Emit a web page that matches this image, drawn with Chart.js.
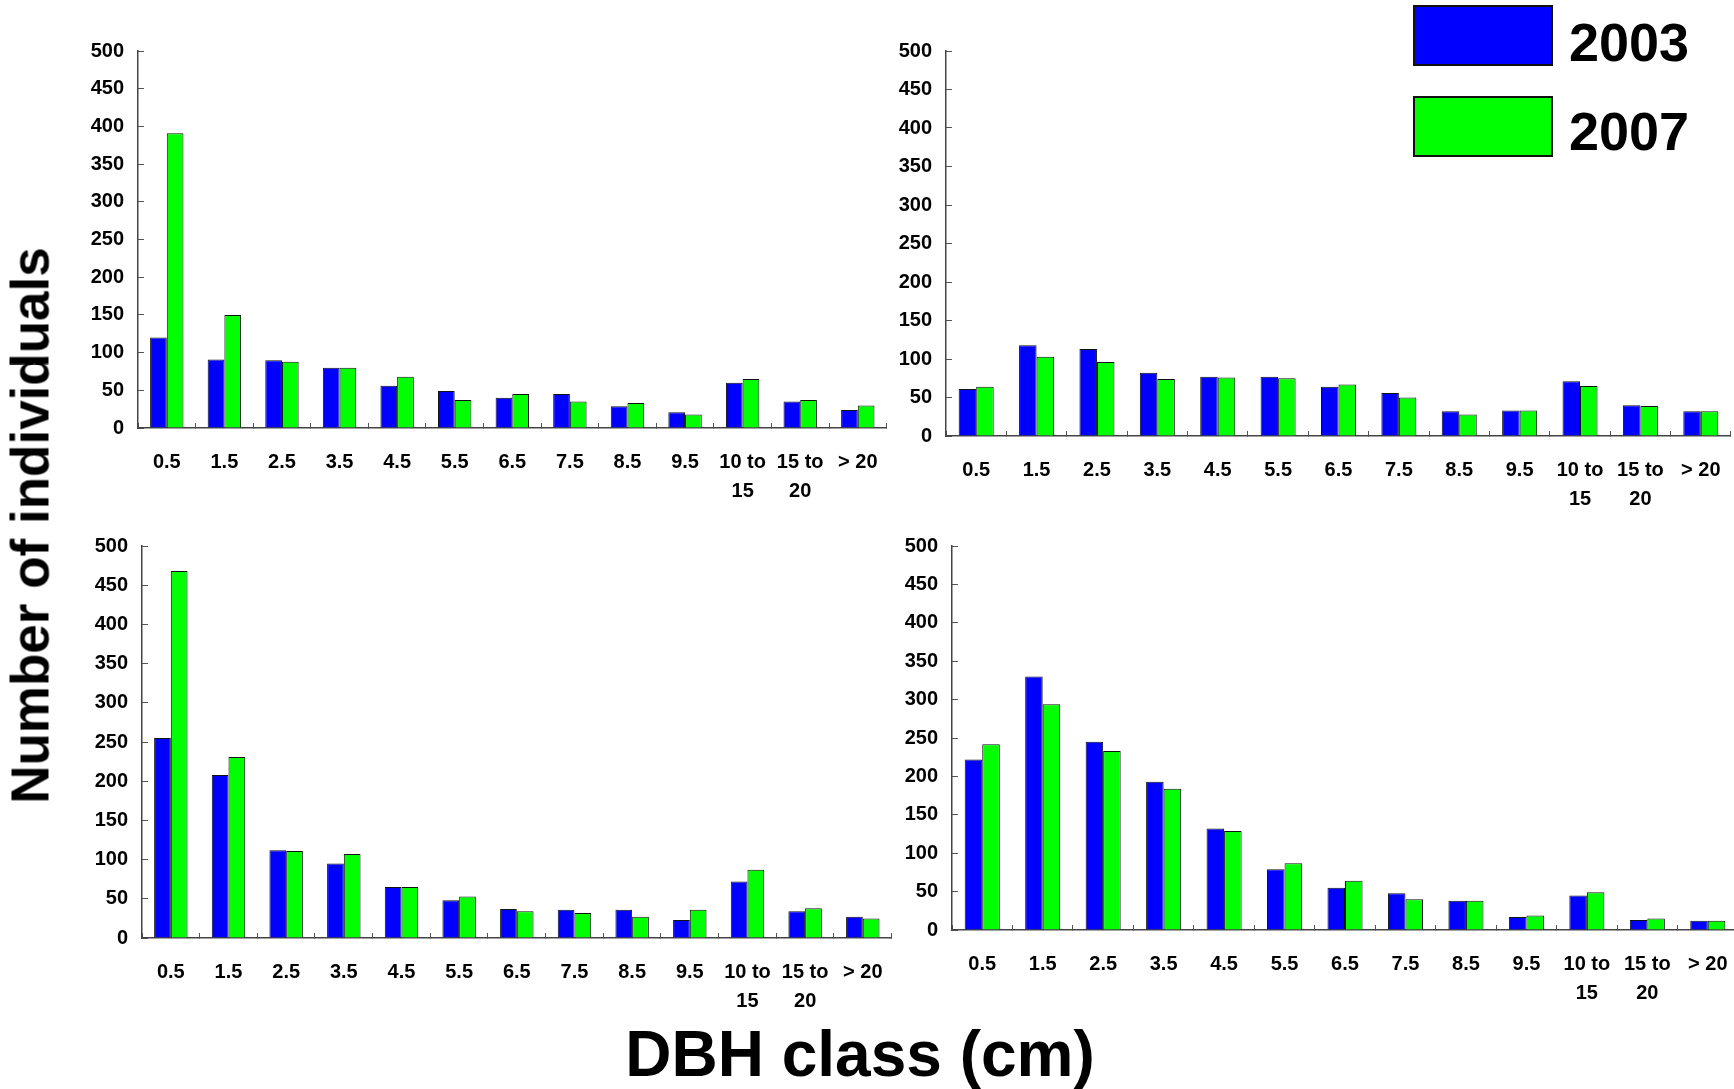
<!DOCTYPE html>
<html>
<head>
<meta charset="utf-8">
<title>DBH class distribution, 2003 and 2007</title>
<script src="https://cdn.jsdelivr.net/npm/chart.js@4.4.1/dist/chart.umd.min.js"></script>
<style>
  html, body { margin: 0; padding: 0; background: #fff; }
  body {
    width: 1734px; height: 1089px; position: relative; overflow: hidden;
    font-family: 'Liberation Sans', Arial, Helvetica, sans-serif;
  }
  canvas { position: absolute; }
  .txt { position: absolute; font-weight: bold; color: #000; white-space: nowrap; line-height: 1; }
  .swatch { position: absolute; box-sizing: border-box; border: 2px solid #111; }
</style>
</head>
<body>

<canvas id="panelA"></canvas>
<canvas id="panelB"></canvas>
<canvas id="panelC"></canvas>
<canvas id="panelD"></canvas>

<!-- shared legend, top right -->
<div class="swatch" id="sw0" style="left:1413px;top:5px;width:140px;height:61px;"></div>
<div class="txt" id="lg0" style="left:1569px;top:15px;font-size:54px;"></div>
<div class="swatch" id="sw1" style="left:1413px;top:96px;width:140px;height:61px;"></div>
<div class="txt" id="lg1" style="left:1569px;top:104px;font-size:54px;"></div>

<!-- axis titles -->
<div class="txt" id="yTitle"
     style="left:-320px;top:499px;width:700px;text-align:center;font-size:53px;transform:rotate(-90deg);"></div>
<div class="txt" id="xTitle"
     style="left:460px;top:1022px;width:800px;text-align:center;font-size:64px;"></div>

<script>
// ---- data ----
const dbhClasses = ['0.5', '1.5', '2.5', '3.5', '4.5', '5.5', '6.5', '7.5', '8.5', '9.5',
                    ['10 to', '15'], ['15 to', '20'], '> 20'];
const years = ['2003', '2007'];
const yTickMax = 500;
const yTickStep = 50;
const xTitleText = 'DBH class (cm)';
const yTitleText = 'Number of individuals';

// top left panel
const topLeft2003 = [120, 91, 90, 80, 56, 49, 40, 45, 29, 21, 60, 35, 24];
const topLeft2007 = [391, 150, 88, 80, 68, 37, 45, 35, 33, 18, 65, 37, 30];
// top right panel
const topRight2003 = [61, 118, 113, 82, 77, 77, 64, 56, 32, 33, 71, 40, 32];
const topRight2007 = [64, 103, 96, 74, 76, 75, 67, 50, 28, 33, 65, 39, 32];
// bottom left panel
const bottomLeft2003 = [255, 208, 112, 95, 65, 48, 37, 36, 36, 23, 72, 34, 27];
const bottomLeft2007 = [468, 231, 111, 107, 65, 53, 34, 32, 27, 36, 87, 38, 25];
// bottom right panel
const bottomRight2003 = [222, 330, 245, 193, 132, 79, 55, 48, 38, 17, 45, 13, 12];
const bottomRight2007 = [242, 294, 233, 184, 129, 87, 64, 40, 38, 19, 49, 15, 12];

// ---- styling ----
const seriesColors = ['#0000ff', '#00ff00'];

Chart.defaults.font.family = "'Liberation Sans', Arial, sans-serif";
Chart.defaults.font.weight = 'bold';
Chart.defaults.font.size = 20;
Chart.defaults.color = '#000';

const Y_AXIS_W = 90;
const X_AXIS_H = 90;
const PAD_TOP = 20;
const PAD_RIGHT = 12;

// wanted plot-area rectangles on the page (px)
const panelAreas = {
    panelA: { l: 138, t: 51, r: 887, b: 428 },
    panelB: { l: 946, t: 51, r: 1731, b: 436 },
    panelC: { l: 142, t: 546, r: 892, b: 938 },
    panelD: { l: 952, t: 546, r: 1738, b: 930 }
};

const buildChart = (cv, blue, green) => new Chart(cv, {
    type: 'bar',
    data: {
        labels: dbhClasses,
        datasets: [
            { label: years[0], data: blue, backgroundColor: seriesColors[0] },
            { label: years[1], data: green, backgroundColor: seriesColors[1] }
        ]
    },
    options: {
        responsive: false,
        animation: false,
        layout: { padding: { top: PAD_TOP, right: PAD_RIGHT, left: 0, bottom: 0 } },
        datasets: {
            bar: {
                categoryPercentage: 0.58,
                barPercentage: 1,
                borderColor: '#111',
                borderWidth: 1
            }
        },
        plugins: {
            legend: { display: false },
            tooltip: { enabled: false }
        },
        scales: {
            x: {
                // small inside tick marks between the classes
                grid: { drawOnChartArea: false, drawTicks: true, tickLength: -5, color: '#555', offset: true },
                border: { color: '#444', width: 1.5 },
                ticks: { autoSkip: false, maxRotation: 0, minRotation: 0, padding: 25, font: { lineHeight: 1.45 } },
                afterFit: s => { s.height = X_AXIS_H; }
            },
            y: {
                min: 0,
                max: yTickMax,
                grid: { drawOnChartArea: false, drawTicks: true, tickLength: -6, color: '#555' },
                border: { color: '#444', width: 1.5 },
                ticks: { stepSize: yTickStep, padding: 20 },
                afterFit: s => { s.width = Y_AXIS_W; }
            }
        }
    }
});

const drawPanel = (id, blue, green) => {
    const area = panelAreas[id];
    const cv = document.getElementById(id);
    let w = area.r - area.l + Y_AXIS_W + PAD_RIGHT;
    let h = area.b - area.t + PAD_TOP + X_AXIS_H;
    cv.width = w;
    cv.height = h;

    // first pass: see how big the plot area came out, then size the canvas to fit
    let chart = buildChart(cv, blue, green);
    const ca = chart.chartArea;
    w += (area.r - area.l) - (ca.right - ca.left);
    h += (area.b - area.t) - (ca.bottom - ca.top);
    chart.destroy();

    cv.width = w;
    cv.height = h;
    chart = buildChart(cv, blue, green);
    cv.style.left = (area.l - chart.chartArea.left) + 'px';
    cv.style.top = (area.t - chart.chartArea.top) + 'px';
    return chart;
};

drawPanel('panelA', topLeft2003, topLeft2007);
drawPanel('panelB', topRight2003, topRight2007);
drawPanel('panelC', bottomLeft2003, bottomLeft2007);
drawPanel('panelD', bottomRight2003, bottomRight2007);

// legend + titles
years.forEach((y, i) => {
    document.getElementById('sw' + i).style.background = seriesColors[i];
    document.getElementById('lg' + i).textContent = y;
});
document.getElementById('xTitle').textContent = xTitleText;
document.getElementById('yTitle').textContent = yTitleText;
</script>
</body>
</html>
